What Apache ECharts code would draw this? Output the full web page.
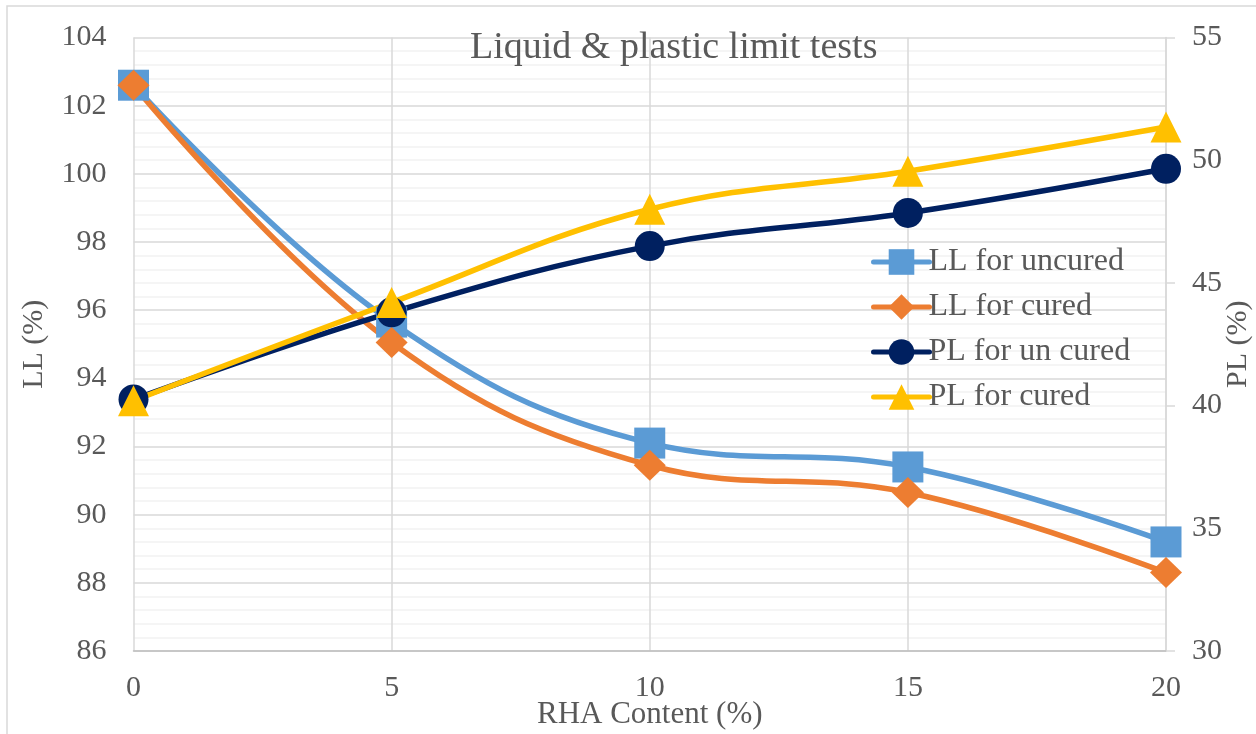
<!DOCTYPE html>
<html>
<head>
<meta charset="utf-8">
<title>Liquid & plastic limit tests</title>
<script src="https://cdn.jsdelivr.net/npm/echarts@6/dist/echarts.min.js"></script>
<style>
  html, body { margin: 0; padding: 0; background: #ffffff; }
  #chart { width: 1256px; height: 734px; }
</style>
</head>
<body>
<div id="chart"></div>
<script>
// RHA content (%) on the x axis
const rhaContent = [0, 5, 10, 15, 20];

// Liquid limit (%), left axis
const llUncured = [102.6, 95.65, 92.1, 91.4, 89.2];
const llCured = [102.6, 95.05, 91.45, 90.65, 88.3];

// Plastic limit (%), right axis
const plUncured = [40.25, 43.8, 46.5, 47.85, 49.65];
const plCured = [40.2, 44.2, 48.0, 49.55, 51.35];

const seriesNames = ['LL for uncured', 'LL for cured', 'PL for un cured', 'PL for cured'];

const FONT = '"Liberation Serif", "Times New Roman", serif';
const TEXT = '#595959';
const MAJOR = '#D9D9D9';
const MINOR = '#F2F2F2';

function pairs(ys) {
  return rhaContent.map((x, i) => [x, ys[i]]);
}

function lineSeries(name, ys, color, symbol, size, yAxisIndex) {
  return {
    name: name,
    type: 'line',
    yAxisIndex: yAxisIndex,
    data: pairs(ys),
    smooth: 0.4,
    symbol: symbol,
    symbolSize: size,
    showAllSymbol: true,
    lineStyle: { color: color, width: 5.5, cap: 'round' },
    itemStyle: { color: color },
    emphasis: { disabled: true },
    animation: false
  };
}

const chart = echarts.init(document.getElementById('chart'), null, { renderer: 'canvas' });

chart.setOption({
  backgroundColor: '#ffffff',
  animation: false,
  title: {
    text: 'Liquid & plastic limit tests',
    left: 465,
    top: 24,
    textStyle: { fontFamily: FONT, fontSize: 38, fontWeight: 'normal', color: TEXT }
  },
  graphic: [{
    type: 'rect',
    shape: { x: 7, y: 6, width: 1270, height: 760 },
    style: { fill: 'none', stroke: MAJOR, lineWidth: 1.5 },
    silent: true,
    z: -1
  }],
  legend: {
    orient: 'vertical',
    left: 866,
    top: 241,
    itemWidth: 56,
    itemHeight: 32,
    itemGap: 13,
    data: seriesNames,
    lineStyle: { width: 5, cap: 'round' },
    textStyle: { fontFamily: FONT, fontSize: 32, lineHeight: 32, color: TEXT, padding: [0, 0, 0, -6] }
  },
  grid: { left: 133.5, right: 90, top: 37.5, bottom: 83, containLabel: false, outerBoundsMode: 'none' },
  xAxis: {
    type: 'value',
    min: 0,
    max: 20,
    interval: 5,
    name: 'RHA Content (%)',
    nameLocation: 'middle',
    nameGap: 64,
    nameMoveOverlap: false,
    nameTextStyle: { fontFamily: FONT, fontSize: 31, color: TEXT, verticalAlign: 'middle', lineHeight: 31 },
    axisLine: { show: true, lineStyle: { color: '#BFBFBF', width: 1.5 } },
    axisTick: { show: false },
    axisLabel: { fontFamily: FONT, fontSize: 30, color: TEXT, margin: 22 },
    splitLine: { show: true, lineStyle: { color: MAJOR, width: 1.5 } }
  },
  yAxis: [{
    type: 'value',
    min: 86,
    max: 104,
    interval: 2,
    position: 'left',
    name: 'LL (%)',
    nameLocation: 'middle',
    nameRotate: 90,
    nameGap: 84,
    nameMoveOverlap: false,
    nameTextStyle: { fontFamily: FONT, fontSize: 30, color: TEXT },
    axisLine: { show: false },
    axisTick: { show: false },
    axisLabel: { fontFamily: FONT, fontSize: 30, color: TEXT, margin: 27 },
    splitLine: { show: true, lineStyle: { color: MAJOR, width: 1.5 } },
    minorTick: { show: false, splitNumber: 5 },
    minorSplitLine: { show: true, lineStyle: { color: MINOR, width: 1.5 } }
  }, {
    type: 'value',
    min: 30,
    max: 55,
    interval: 5,
    position: 'right',
    name: 'PL (%)',
    nameLocation: 'middle',
    nameRotate: 90,
    nameGap: 57,
    nameMoveOverlap: false,
    nameTextStyle: { fontFamily: FONT, fontSize: 30, color: TEXT },
    axisLine: { show: true, lineStyle: { color: MAJOR, width: 1.5 } },
    axisTick: { show: true, length: 9, lineStyle: { color: MAJOR, width: 1.5 } },
    axisLabel: { fontFamily: FONT, fontSize: 30, color: TEXT, margin: 26 },
    splitLine: { show: false }
  }],
  series: [
    lineSeries(seriesNames[0], llUncured, '#5B9BD5', 'rect', 31, 0),
    lineSeries(seriesNames[1], llCured, '#ED7D31', 'diamond', [32, 31], 0),
    lineSeries(seriesNames[2], plUncured, '#002060', 'circle', 30, 1),
    lineSeries(seriesNames[3], plCured, '#FFC000', 'triangle', 31, 1)
  ]
});
</script>
</body>
</html>
